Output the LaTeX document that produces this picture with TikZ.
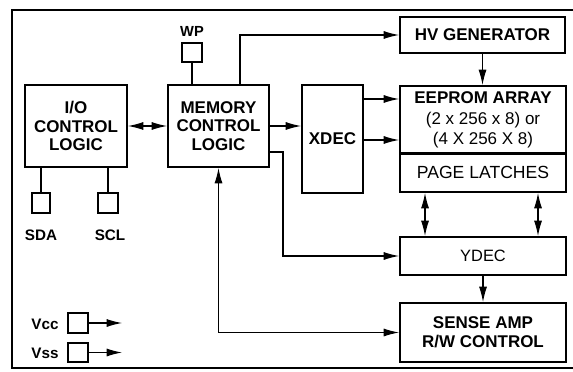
\documentclass[tikz,border=0pt]{standalone}
\usepackage{fontspec}
\setmainfont{Liberation Sans}
\usetikzlibrary{arrows.meta}

\begin{document}
\begin{tikzpicture}[x=0.03cm,y=-0.03cm,line width=0.9pt,>={Latex[length=4.6mm,width=2.4mm]},
  blk/.style={draw,line width=1.7pt,align=center,inner sep=0pt,
    font=\bfseries\fontsize{14.5}{16}\selectfont},
  lbl/.style={font=\bfseries\fontsize{13}{15}\selectfont}]
  \useasboundingbox (0,0) rectangle (573,371);
  % marco
  \draw[line width=1.2pt] (573,10) -- (12,10) -- (12,368) -- (573,368);
  % bloques
  \node[blk,minimum width=102*0.03cm,minimum height=82*0.03cm] (io) at (76,126) {I/O\\CONTROL\\LOGIC};
  \node[blk,minimum width=101*0.03cm,minimum height=82*0.03cm] (mem) at (218.5,126) {MEMORY\\CONTROL\\LOGIC};
  \node[blk,minimum width=165*0.03cm,minimum height=36*0.03cm] (hv) at (482.5,35) {HV GENERATOR};
  \node[blk,minimum width=61*0.03cm,minimum height=108*0.03cm] (xdec) at (332.5,139) {XDEC};
  \node[blk,minimum width=166*0.03cm,minimum height=68*0.03cm,font=\fontsize{14.5}{17.5}\selectfont] (eeprom) at (483,120)
    {\bfseries EEPROM ARRAY\\(2 x 256 x 8) or\\(4 X 256 X 8)};
  \node[blk,minimum width=166*0.03cm,minimum height=39*0.03cm,font=\fontsize{15}{16}\selectfont] (latch) at (483,172.5) {PAGE LATCHES};
  \node[blk,minimum width=166*0.03cm,minimum height=38*0.03cm,font=\fontsize{14}{16}\selectfont] (ydec) at (483,256) {YDEC};
  \node[blk,minimum width=166*0.03cm,minimum height=59*0.03cm] (sense) at (483,332.5) {SENSE AMP\\R/W CONTROL};
  % pines
  \node[draw,line width=1.4pt,minimum width=20*0.03cm,minimum height=19*0.03cm,inner sep=0pt] (wp) at (192,52.5) {};
  \node[draw,line width=1.4pt,minimum width=18*0.03cm,minimum height=20*0.03cm,inner sep=0pt] (sda) at (41,203) {};
  \node[draw,line width=1.4pt,minimum width=20*0.03cm,minimum height=20*0.03cm,inner sep=0pt] (scl) at (108,203) {};
  \node[draw,line width=1.4pt,minimum width=20*0.03cm,minimum height=20*0.03cm,inner sep=0pt] (vcc) at (78,323) {};
  \node[draw,line width=1.4pt,minimum width=20*0.03cm,minimum height=19*0.03cm,inner sep=0pt] (vss) at (78,352.5) {};
  \node[lbl,font=\bfseries\fontsize{12.5}{14}\selectfont] (wpl) at (192,31) {WP};
  \node[lbl] (sdal) at (41,235) {SDA};
  \node[lbl] (scll) at (110,235) {SCL};
  \node[lbl,anchor=east] (vccl) at (63,324) {Vcc};
  \node[lbl,anchor=east] (vssl) at (63,353) {Vss};
  \coordinate (memtop) at (240,85);
  \coordinate (bend) at (283,256);
  \coordinate (vccend) at (122,323);
  \coordinate (vssend) at (122,352.5);
  % conexiones
  \draw (wp) -- (wp |- mem.north);
  \draw (io.south -| sda) -- (sda);
  \draw (io.south -| scl) -- (scl);
  \draw[<->] (io) -- (mem);
  \draw[->] (memtop) |- (hv.west);
  \draw[->] (hv.south) -- (hv.south |- eeprom.north);
  \draw[->] (mem) -- (mem -| xdec.west);
  \foreach \y in {99,140} \draw[->] (xdec.east |- 0,\y) -- (eeprom.west |- 0,\y);
  \draw[->] (mem.east |- 0,152) -| (bend) -- (ydec.west);
  \draw[<->] (mem.south) |- (sense.west);
  \foreach \x in {425,538} \draw[<->] (latch.south -| \x,0) -- (ydec.north -| \x,0);
  \draw[->] (ydec) -- (sense);
  \draw[->] (vcc) -- (vccend);
  \draw[->] (vss) -- (vssend);
\end{tikzpicture}
\end{document}
